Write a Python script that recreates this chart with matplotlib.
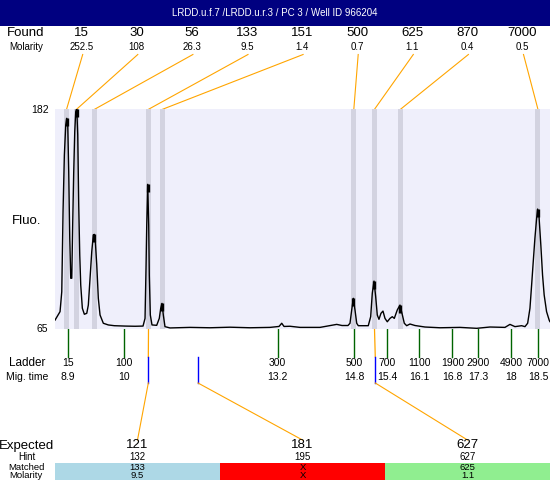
import numpy as np
import matplotlib
matplotlib.use('Agg')
import matplotlib.pyplot as plt
from matplotlib.patches import Rectangle

plt.rcParams['font.family'] = ['Liberation Sans', 'DejaVu Sans']

# ---- datos ----
title = 'LRDD.u.f.7 /LRDD.u.r.3 / PC 3 / Well ID 966204'

found_sizes = ['15', '30', '56', '133', '151', '500', '625', '870', '7000']
found_molarity = ['252.5', '108', '26.3', '9.5', '1.4', '0.7', '1.1', '0.4', '0.5']
found_times = [8.876, 9.080, 9.447, 10.548, 10.834, 14.737, 15.159, 15.689, 18.494]

ladder_sizes = ['15', '100', '300', '500', '700', '1100', '1900', '2900', '4900', '7000']
ladder_times = [8.90, 10.05, 13.18, 14.75, 15.42, 16.07, 16.75, 17.28, 17.95, 18.50]
ladder_time_labels = ['8.9', '10', '13.2', '14.8', '15.4', '16.1', '16.8', '17.3', '18', '18.5']

expected = ['121', '181', '627']
hint = ['132', '195', '627']
matched = ['133', 'X', '625']
matched_molarity = ['9.5', 'X', '1.1']
expected_times = [10.544, 11.558, 15.175]
matched_times = [10.548, None, 15.159]
match_colors = ['#ADD8E6', '#FF0000', '#90EE90']

fluo_min, fluo_max = 65, 182
time_range = (8.64, 18.74)

# electroferograma
trace_t = [8.641, 8.743, 8.778, 8.804, 8.831, 8.859, 8.880, 8.900, 8.920, 8.941,
           8.961, 8.982, 9.002, 9.022, 9.043, 9.063, 9.084, 9.104, 9.124, 9.145,
           9.165, 9.198, 9.239, 9.288, 9.320, 9.355, 9.390, 9.422, 9.443, 9.463,
           9.492, 9.524, 9.559, 9.626, 9.728, 9.851, 10.069, 10.273, 10.436, 10.477,
           10.497, 10.512, 10.532, 10.552, 10.564, 10.585, 10.619, 10.715, 10.768, 10.797,
           10.823, 10.850, 10.884, 10.986, 11.394, 11.802, 12.211, 12.619, 13.027, 13.211,
           13.266, 13.313, 13.435, 13.639, 14.047, 14.388, 14.496, 14.618, 14.659, 14.694,
           14.727, 14.761, 14.796, 14.828, 15.032, 15.081, 15.114, 15.149, 15.183, 15.216,
           15.250, 15.291, 15.332, 15.373, 15.420, 15.475, 15.522, 15.563, 15.624, 15.679,
           15.720, 15.767, 15.816, 15.883, 15.985, 16.189, 16.495, 16.903, 17.244, 17.515,
           17.821, 17.923, 18.025, 18.161, 18.229, 18.284, 18.331, 18.365, 18.398, 18.432,
           18.467, 18.487, 18.514, 18.553, 18.588, 18.621, 18.670, 18.723, 18.737]
trace_f = [69.6, 74.1, 84.7, 127.4, 157.6, 173.6, 177.2, 173.6, 148.7, 113.2,
           91.9, 91.9, 122.1, 148.7, 170.1, 180.7, 182.5, 168.3, 131.0, 104.3,
           88.3, 75.9, 72.7, 73.2, 77.6, 91.9, 106.1, 115.0, 115.3, 111.4,
           99.0, 81.2, 72.3, 67.9, 67.0, 66.6, 66.4, 66.3, 66.4, 70.5,
           97.2, 120.3, 142.0, 120.3, 93.6, 72.3, 67.0, 66.8, 70.5, 75.9,
           78.5, 72.3, 66.1, 65.4, 65.7, 65.5, 65.8, 65.5, 65.7, 66.2,
           67.9, 66.2, 66.3, 65.7, 65.7, 67.3, 66.7, 66.7, 67.9, 75.0,
           81.2, 75.0, 67.9, 66.6, 66.6, 71.4, 83.9, 90.4, 82.1, 72.3,
           70.0, 73.2, 74.4, 70.5, 68.7, 70.5, 71.4, 70.5, 75.0, 77.6,
           73.2, 67.9, 66.6, 67.5, 66.7, 65.9, 65.5, 65.7, 65.2, 65.9,
           65.7, 67.3, 66.1, 66.6, 66.1, 67.9, 75.9, 88.3, 100.7, 113.2,
           123.9, 128.8, 125.6, 109.6, 93.6, 83.0, 74.1, 69.6, 68.8]

# ---- figura ----
fig = plt.figure(figsize=(5.5, 4.8), dpi=100)

# capa de fondo en pixeles para textos y conectores
bg = fig.add_axes([0, 0, 1, 1])
bg.set_xlim(0, 550)
bg.set_ylim(480, 0)
bg.axis('off')

# area del trazo
ax = fig.add_axes([55 / 550, 151.3 / 480, 495 / 550, 219.4 / 480])
ax.set_facecolor('#EFEFFB')
ax.set_xlim(*time_range)
ax.set_ylim(fluo_min, fluo_max)
ax.set_xticks([])
ax.set_yticks([])
for s in ax.spines.values():
    s.set_visible(False)

for t in found_times:
    ax.axvspan(t - 0.051, t + 0.051, color='#D3D3E0', lw=0)
ax.plot(trace_t, trace_f, color='k', lw=1.0)

# marca gruesa en la cima de cada pico encontrado
tt = np.array(trace_t)
ff = np.array(trace_f)
for t in found_times:
    sel = np.abs(tt - t) < 0.06
    i = np.argmax(ff[sel])
    tp, fp = tt[sel][i], min(ff[sel][i], fluo_max)
    ax.plot([tp, tp], [fp, fp - 4], color='k', lw=2.4, solid_capstyle='butt')


def to_px(t):
    xd = ax.transData.transform((t, fluo_min))[0]
    return bg.transData.inverted().transform((xd, 0))[0]


plot_top, plot_bottom = 109.3, 328.7
orange = '#FFA500'
green = '#006400'

# cabecera
bg.add_patch(Rectangle((0, 0), 550, 26, color='#000080', lw=0))
bg.text(275, 13.5, title, color='white', ha='center', va='center', fontsize=7)

# fila Found / Molarity
bg.text(26, 33.5, 'Found', ha='center', va='center', fontsize=9.5)
bg.text(26, 47.5, 'Molarity', ha='center', va='center', fontsize=7)
cols = np.linspace(81.7, 522.5, len(found_sizes))
for x, s, m, t in zip(cols, found_sizes, found_molarity, found_times):
    bg.text(x, 33.5, s, ha='center', va='center', fontsize=9.5)
    bg.text(x, 47.5, m, ha='center', va='center', fontsize=7)
    bg.plot([x + 1, to_px(t)], [54.5, plot_top], color=orange, lw=0.8)

# eje Y
bg.text(49, plot_top + 1, '182', ha='right', va='center', fontsize=7.5)
bg.text(48, plot_bottom, '65', ha='right', va='center', fontsize=7.5)
bg.text(27, 221, 'Fluo.', ha='center', va='center', fontsize=9.5)

# ladder
bg.text(27, 363.5, 'Ladder', ha='center', va='center', fontsize=8.5)
bg.text(27, 376.5, 'Mig. time', ha='center', va='center', fontsize=7.5)
for t, s, m in zip(ladder_times, ladder_sizes, ladder_time_labels):
    x = to_px(t)
    bg.plot([x, x], [plot_bottom, 357], color=green, lw=1)
    bg.text(x, 363.5, s, ha='center', va='center', fontsize=7.5)
    bg.text(x, 376.5, m, ha='center', va='center', fontsize=7.5)

# tabla esperados
edges = np.linspace(55, 550, len(expected) + 1)
centers = (edges[:-1] + edges[1:]) / 2
for i in range(len(expected)):
    xe = to_px(expected_times[i])
    if matched_times[i] is not None:
        bg.plot([to_px(matched_times[i]), xe], [plot_bottom, 357], color=orange, lw=0.9)
    bg.plot([xe, xe], [357, 383], color='blue', lw=1)
    bg.plot([xe, centers[i]], [383, 440], color=orange, lw=0.8)
    bg.add_patch(Rectangle((edges[i], 463), edges[i + 1] - edges[i], 17,
                           color=match_colors[i], lw=0))
    bg.text(centers[i], 445.5, expected[i], ha='center', va='center', fontsize=9.5)
    bg.text(centers[i], 457, hint[i], ha='center', va='center', fontsize=7)
    bg.text(centers[i], 467.3, matched[i], ha='center', va='center', fontsize=6.8)
    bg.text(centers[i], 475.3, matched_molarity[i], ha='center', va='center', fontsize=6.8)

bg.text(27, 445.5, 'Expected', ha='center', va='center', fontsize=9.5)
bg.text(27, 457, 'Hint', ha='center', va='center', fontsize=7)
bg.text(26, 467.3, 'Matched', ha='center', va='center', fontsize=6.8)
bg.text(26, 475.3, 'Molarity', ha='center', va='center', fontsize=6.8)

fig.savefig('out.png', dpi=100)
